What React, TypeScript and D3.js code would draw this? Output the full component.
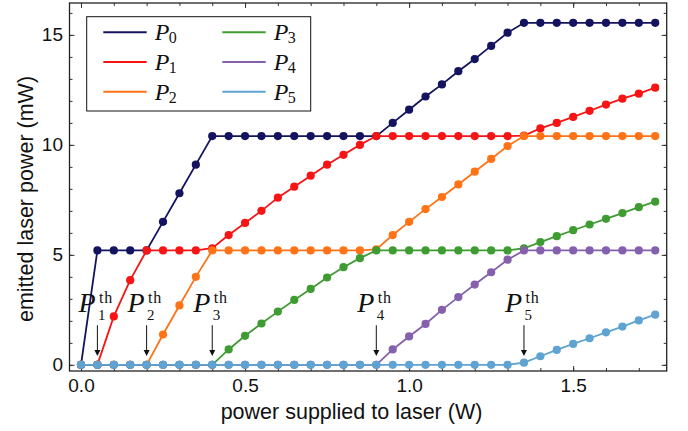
import React, { useRef, useEffect } from "react";
import * as d3 from "d3";

// supplied power (W)
const xs = [
  0, 0.05, 0.1, 0.15, 0.2, 0.25, 0.3, 0.35, 0.4, 0.45, 0.5, 0.55, 0.6, 0.65, 0.7, 0.75, 0.8, 0.85,
  0.9, 0.95, 1.0, 1.05, 1.1, 1.15, 1.2, 1.25, 1.3, 1.35, 1.4, 1.45, 1.5, 1.55, 1.6, 1.65, 1.7, 1.75,
];

// emitted power per laser (mW)
const p0 = [
  0, 5.2, 5.2, 5.2, 5.2, 6.5, 7.8, 9.1, 10.4, 10.4, 10.4, 10.4, 10.4, 10.4, 10.4, 10.4, 10.4, 10.4,
  10.4, 11.0, 11.6, 12.2, 12.75, 13.35, 13.9, 14.5, 15.1, 15.55, 15.55, 15.55, 15.55, 15.55, 15.55, 15.55, 15.55, 15.55,
];
const p1 = [
  0, 0, 2.2, 3.85, 5.2, 5.2, 5.2, 5.2, 5.3, 5.9, 6.45, 7.0, 7.6, 8.1, 8.6, 9.1, 9.55, 10.0,
  10.4, 10.4, 10.4, 10.4, 10.4, 10.4, 10.4, 10.4, 10.4, 10.42, 10.75, 11.0, 11.27, 11.55, 11.83, 12.1, 12.33, 12.6,
];
const p2 = [
  0, 0, 0, 0, 0, 1.38, 2.7, 4.0, 5.2, 5.2, 5.2, 5.2, 5.2, 5.2, 5.2, 5.2, 5.2, 5.2,
  5.25, 5.9, 6.5, 7.08, 7.63, 8.2, 8.78, 9.36, 9.95, 10.4, 10.4, 10.4, 10.4, 10.4, 10.4, 10.4, 10.4, 10.4,
];
const p3 = [
  0, 0, 0, 0, 0, 0, 0, 0, 0, 0.7, 1.32, 1.88, 2.42, 2.95, 3.45, 3.97, 4.44, 4.85,
  5.2, 5.2, 5.2, 5.2, 5.2, 5.2, 5.2, 5.2, 5.2, 5.3, 5.58, 5.85, 6.12, 6.38, 6.64, 6.9, 7.17, 7.42,
];
const p4 = [
  0, 0, 0, 0, 0, 0, 0, 0, 0, 0, 0, 0, 0, 0, 0, 0, 0, 0,
  0, 0.7, 1.29, 1.86, 2.5, 3.08, 3.65, 4.21, 4.78, 5.2, 5.2, 5.2, 5.2, 5.2, 5.2, 5.2, 5.2, 5.2,
];
const p5 = [
  0, 0, 0, 0, 0, 0, 0, 0, 0, 0, 0, 0, 0, 0, 0, 0, 0, 0,
  0, 0, 0, 0, 0, 0, 0, 0, 0, 0.1, 0.39, 0.68, 0.95, 1.21, 1.48, 1.74, 2.02, 2.28,
];

const series = [p0, p1, p2, p3, p4, p5];
const seriesNames = ["0", "1", "2", "3", "4", "5"];
const colors = ["#14135f", "#f71414", "#ff7316", "#3f9c32", "#8460ad", "#5ea3d1"];

// threshold powers (W)
const thresholds = [0.05, 0.2, 0.4, 0.9, 1.35];
const thresholdNames = ["1", "2", "3", "4", "5"];

const xTicks = [0, 0.5, 1.0, 1.5];
const yTicks = [0, 5, 10, 15];

function App() {
  const svgRef = useRef(null);

  useEffect(() => {
    const svg = d3.select(svgRef.current);
    svg.selectAll("*").remove();

    const left = 69.5, right = 666.7, top = 3, bottom = 371;
    const x = d3.scaleLinear().domain([-0.035, 1.785]).range([left, right]);
    const y = d3.scaleLinear().domain([-0.28, 16.45]).range([bottom, top]);

    const sans = "'Liberation Sans', Arial, sans-serif";
    const serif = "'Liberation Serif', 'Times New Roman', serif";

    svg.append("rect").attr("width", 688).attr("height", 431).attr("fill", "white");

    // axes with inward ticks
    const minorX = d3.range(0, 18).map((i) => i / 10);
    const minorY = d3.range(0, 17);

    const axes = [
      { gen: d3.axisBottom(x), tr: `translate(0,${bottom})`, major: xTicks, minor: minorX, label: true },
      { gen: d3.axisTop(x), tr: `translate(0,${top})`, major: xTicks, minor: minorX, label: false },
      { gen: d3.axisLeft(y), tr: `translate(${left},0)`, major: yTicks, minor: minorY, label: true },
      { gen: d3.axisRight(y), tr: `translate(${right},0)`, major: yTicks, minor: minorY, label: false },
    ];
    axes.forEach((a, i) => {
      const isX = i < 2;
      const minorAxis = (isX ? (i === 0 ? d3.axisBottom(x) : d3.axisTop(x)) : i === 2 ? d3.axisLeft(y) : d3.axisRight(y))
        .tickValues(a.minor)
        .tickSize(-3)
        .tickFormat(() => "");
      svg.append("g").attr("transform", a.tr).call(minorAxis).call((g) => g.select(".domain").remove())
        .selectAll("line").attr("stroke", "#333");

      const majorAxis = a.gen
        .tickValues(a.major)
        .tickSize(-5)
        .tickPadding(isX ? 8 : 6.5)
        .tickFormat(a.label ? (isX ? d3.format(".1f") : d3.format("d")) : () => "");
      const g = svg.append("g").attr("transform", a.tr).call(majorAxis);
      g.select(".domain").remove();
      g.selectAll("line").attr("stroke", "#333");
      g.selectAll("text").attr("font-family", sans).attr("font-size", 19).attr("fill", "#111");
    });

    svg.append("rect")
      .attr("x", left).attr("y", top)
      .attr("width", right - left).attr("height", bottom - top)
      .attr("fill", "none").attr("stroke", "#222").attr("stroke-width", 1.3);

    // series
    const line = d3.line<number>().x((_, i) => x(xs[i])).y((d) => y(d));
    series.forEach((s, k) => {
      const g = svg.append("g");
      g.append("path").datum(s).attr("d", line)
        .attr("fill", "none").attr("stroke", colors[k]).attr("stroke-width", 1.8);
      g.selectAll("circle").data(s).enter().append("circle")
        .attr("cx", (_, i) => x(xs[i])).attr("cy", (d) => y(d))
        .attr("r", 4.1).attr("fill", colors[k]);
    });

    // threshold annotations
    thresholds.forEach((t, k) => {
      const ax = x(t);
      const y0 = y(1.8), y1 = y(0.4);
      svg.append("line").attr("x1", ax).attr("x2", ax).attr("y1", y0).attr("y2", y1 - 5)
        .attr("stroke", "#111").attr("stroke-width", 1);
      svg.append("path")
        .attr("d", `M${ax - 3},${y1 - 6} L${ax + 3},${y1 - 6} L${ax},${y1} Z`)
        .attr("fill", "#111");
      const by = y(2.4);
      svg.append("text").attr("x", ax - 19).attr("y", by)
        .attr("font-family", serif).attr("font-style", "italic").attr("font-size", 28)
        .attr("fill", "#111").text("P");
      svg.append("text").attr("x", ax + 1.5).attr("y", by - 9)
        .attr("font-family", serif).attr("font-size", 16).attr("letter-spacing", 0.8)
        .attr("fill", "#111").text("th");
      svg.append("text").attr("x", ax + 0.5).attr("y", by + 7.5)
        .attr("font-family", serif).attr("font-size", 15)
        .attr("fill", "#111").text(thresholdNames[k]);
    });

    // legend
    const lg = svg.append("g");
    lg.append("rect").attr("x", 86.7).attr("y", 16.7).attr("width", 224).attr("height", 94.3)
      .attr("fill", "white").attr("stroke", "#111").attr("stroke-width", 1);
    series.forEach((_, k) => {
      const col = Math.floor(k / 3), row = k % 3;
      const lx = col === 0 ? 103.3 : 222.3;
      const ly = 32.3 + row * 29.7;
      lg.append("line").attr("x1", lx).attr("x2", lx + 43.4).attr("y1", ly).attr("y2", ly)
        .attr("stroke", colors[k]).attr("stroke-width", 2);
      const tx = lx + 51.5;
      lg.append("text").attr("x", tx).attr("y", ly + 8)
        .attr("font-family", serif).attr("font-style", "italic").attr("font-size", 24)
        .attr("fill", "#111").text("P");
      lg.append("text").attr("x", tx + 14).attr("y", ly + 11)
        .attr("font-family", serif).attr("font-size", 16)
        .attr("fill", "#111").text(seriesNames[k]);
    });

    // axis titles
    svg.append("text").attr("x", 351.5).attr("y", 419)
      .attr("text-anchor", "middle").attr("font-family", sans).attr("font-size", 21.5)
      .attr("fill", "#111").text("power supplied to laser (W)");
    svg.append("text").attr("transform", "translate(33,199) rotate(-90)")
      .attr("text-anchor", "middle").attr("font-family", sans).attr("font-size", 21.5)
      .attr("fill", "#111").text("emitted laser power (mW)");
  }, []);

  return (
    <svg ref={svgRef} width={688} height={431} style={{ position: "absolute", left: 0, top: 0 }}></svg>
  );
}

export default App;
